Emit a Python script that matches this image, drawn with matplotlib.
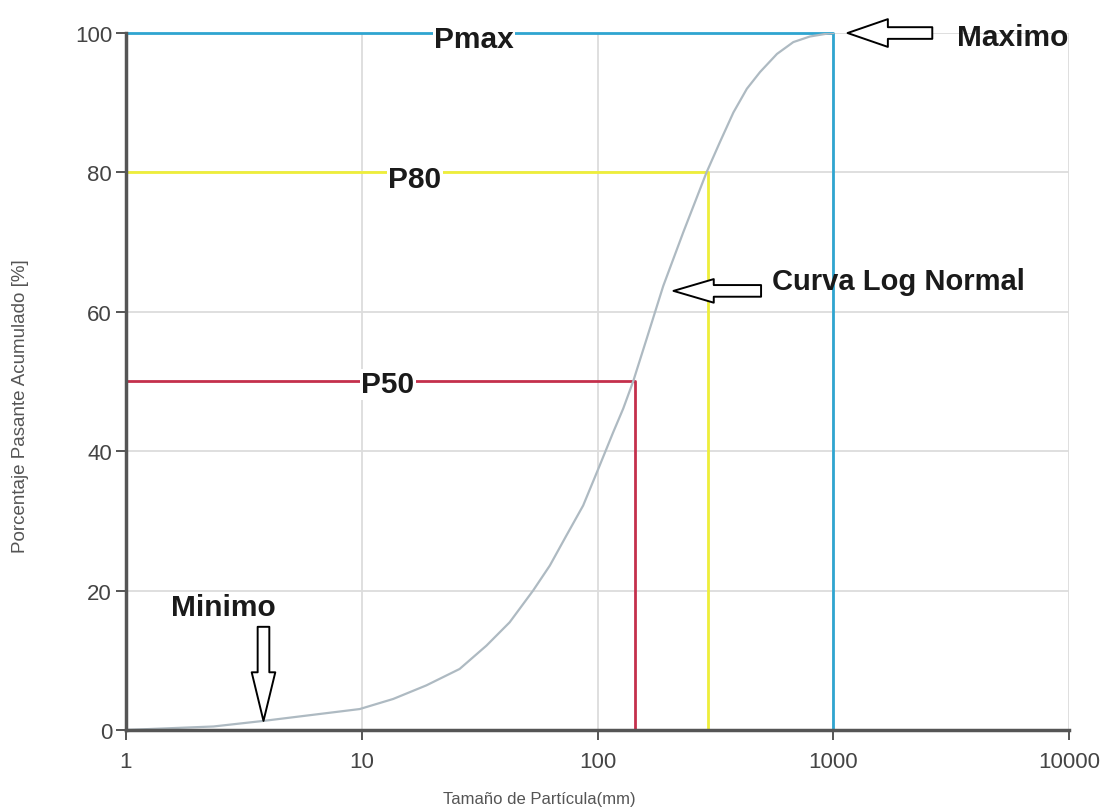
import matplotlib
import numpy as np

matplotlib.use("Agg")
import matplotlib.pyplot as plt

# -- Data ---------------------------------------------------------------------
# Cumulative passing curve (size in mm, passing in %)
SIZE_MM = [1, 2.35, 3.83, 9.8, 13.6, 18.8, 26.0, 33.8, 42.4, 53.3, 62.8,
           73.8, 86.9, 100.6, 116.5, 128.5, 141.6, 161.5, 190, 231, 290,
           330, 377, 430, 489, 577, 677, 796, 937, 1000]
PASSING = [0, 0.5, 1.3, 3.0, 4.45, 6.4, 8.75, 12.1, 15.45, 20.0, 23.6,
           27.9, 32.2, 37.4, 42.7, 46.1, 50.0, 56.1, 63.7, 71.4, 80.0,
           84.3, 88.6, 92.0, 94.4, 97.0, 98.7, 99.5, 99.9, 100]

# Characteristic sizes
MARK_LABELS = ["P50", "P80", "Pmax"]
MARK_PCT = [50, 80, 100]
MARK_SIZE = [144, 295, 1000]
MARK_COLORS = ["#c4304c", "#eeee3a", "#2fa5d0"]

X_TICKS = [1, 10, 100, 1000, 10000]
Y_TICKS = [0, 20, 40, 60, 80, 100]

BOLD = ["Liberation Sans", "DejaVu Sans"]
plt.rcParams["font.family"] = ["Liberation Sans", "DejaVu Sans"]

fig = plt.figure(figsize=(11.13, 8.12), dpi=100)
ax = fig.add_axes([0.1132, 0.0998, 0.8473, 0.8583])

ax.set_xscale("log")
ax.set_xlim(1, 10000)
ax.set_ylim(0, 100)

# grid
ax.grid(True, which="major", color="#dcdcdc", lw=1.3, zorder=0)
ax.set_axisbelow(True)

# reference lines (horizontal to the curve, then down to the axis)
for p, s, c in zip(MARK_PCT, MARK_SIZE, MARK_COLORS):
    ax.plot([1, s, s], [p, p, 0], color=c, lw=2.0, zorder=2, clip_on=False)

# log-normal curve
ax.plot(SIZE_MM, PASSING, color="#aebac2", lw=1.6, zorder=3)

# labels sitting on the reference lines
label_pos = {"P50": (12.9, 49.6), "P80": (16.8, 79.0), "Pmax": (29.9, 99.2)}
for lab in MARK_LABELS:
    lx, ly = label_pos[lab]
    ax.text(lx, ly, lab, ha="center", va="center", fontsize=21.5,
            fontweight="bold", family=BOLD, color="#1a1a1a", zorder=5,
            bbox=dict(boxstyle="square,pad=0.05", fc="white", ec="none"))


# hollow block arrows
def block_arrow(tip, tail, head_len, head_w):
    style = f"simple,head_length={head_len},head_width={head_w},tail_width=0.42"
    ax.annotate("", xy=tip, xytext=tail, zorder=6, annotation_clip=False,
                arrowprops=dict(arrowstyle=style, fc="white", ec="black",
                                lw=1.4, mutation_scale=20,
                                shrinkA=0, shrinkB=0))


block_arrow((1150, 100), (2630, 100), 1.45, 1.0)
ax.text(5780, 99.4, "Maximo", ha="center", va="center", fontsize=21.5,
        fontweight="bold", family=BOLD, color="#1a1a1a", zorder=6)

block_arrow((210, 63), (494, 63), 1.45, 0.85)
ax.text(550, 64.4, "Curva Log Normal", ha="left", va="center", fontsize=21,
        fontweight="bold", family=BOLD, color="#1a1a1a", zorder=6)

block_arrow((3.83, 1.3), (3.83, 14.8), 1.75, 0.85)
ax.text(2.6, 17.6, "Minimo", ha="center", va="center", fontsize=21.5,
        fontweight="bold", family=BOLD, color="#1a1a1a", zorder=6)

# axes styling
for side in ("top", "right"):
    ax.spines[side].set_visible(False)
for side in ("left", "bottom"):
    ax.spines[side].set_color("#555555")
    ax.spines[side].set_linewidth(2.5)
    ax.spines[side].set_zorder(4)

ax.set_xticks(X_TICKS)
ax.set_xticklabels([str(v) for v in X_TICKS])
ax.xaxis.set_minor_locator(matplotlib.ticker.NullLocator())
ax.set_yticks(Y_TICKS)
ax.set_yticklabels([str(v) for v in Y_TICKS])
ax.tick_params(axis="both", which="major", length=7, width=1.4,
               color="#555555", labelsize=16, labelcolor="#444444")
ax.tick_params(axis="y", pad=3)
ax.tick_params(axis="x", pad=8)

fig.text(0.018, 0.5, "Porcentaje Pasante Acumulado [%]", rotation=90,
         ha="center", va="center", fontsize=13.5, color="#555555")
fig.text(0.485, 0.015, "Tamaño de Partícula(mm)", ha="center", va="center",
         fontsize=12, color="#555555")

fig.savefig("out.png", dpi=100)
